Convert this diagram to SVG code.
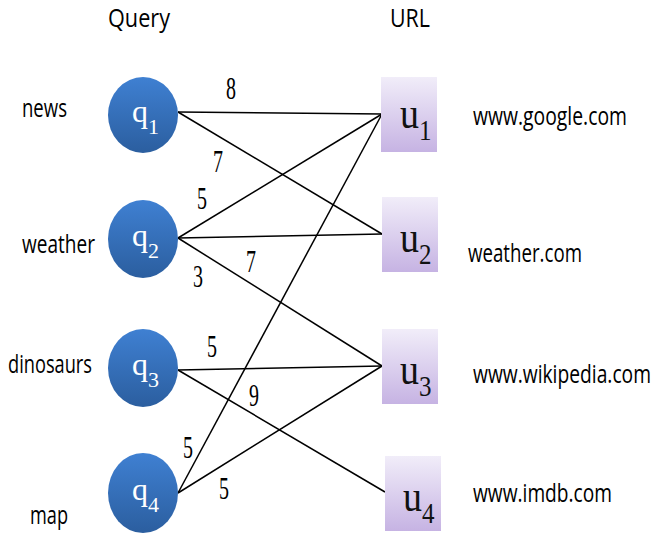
<svg xmlns="http://www.w3.org/2000/svg" width="654" height="537" viewBox="0 0 654 537">
<defs>
<linearGradient id="gq" x1="0" y1="0" x2="0" y2="1">
<stop offset="0" stop-color="#3f80d2"/>
<stop offset="1" stop-color="#2b5e9f"/>
</linearGradient>
<linearGradient id="gu" x1="0" y1="0" x2="0" y2="1">
<stop offset="0" stop-color="#f1edf9"/>
<stop offset="1" stop-color="#c6b3e3"/>
</linearGradient>
</defs>
<style>
.lbl{font-family:"Open Sans","Liberation Sans",sans-serif;font-size:19px;fill:#000}
.q{fill:url(#gq)}
.u{fill:url(#gu)}
.qt{font-family:"Liberation Serif","Times New Roman",serif;font-size:32px;fill:#fff}
.ut{font-family:"Liberation Serif","Times New Roman",serif;font-size:38px;fill:#111}
.w{font-family:"Liberation Serif","Times New Roman",serif;font-size:20px;fill:#000}
.e{stroke:#000;stroke-width:1.5;fill:none}
</style>
<rect width="654" height="537" fill="#fff"/>
<text class="lbl" transform="translate(108,27) scale(1,1.35)" textLength="62" lengthAdjust="spacingAndGlyphs">Query</text>
<text class="lbl" transform="translate(390,27) scale(1,1.35)" textLength="40" lengthAdjust="spacingAndGlyphs">URL</text>
<g id="labels-left">
<text class="lbl" transform="translate(22,117) scale(1,1.35)" textLength="45" lengthAdjust="spacingAndGlyphs">news</text>
<text class="lbl" transform="translate(22,253) scale(1,1.35)" textLength="73" lengthAdjust="spacingAndGlyphs">weather</text>
<text class="lbl" transform="translate(8,373) scale(1,1.35)" textLength="84" lengthAdjust="spacingAndGlyphs">dinosaurs</text>
<text class="lbl" transform="translate(30,524) scale(1,1.35)" textLength="38" lengthAdjust="spacingAndGlyphs">map</text>
</g>
<g id="labels-right">
<text class="lbl" transform="translate(473,125) scale(1,1.35)" textLength="154" lengthAdjust="spacingAndGlyphs">www.google.com</text>
<text class="lbl" transform="translate(468,262) scale(1,1.35)" textLength="114" lengthAdjust="spacingAndGlyphs">weather.com</text>
<text class="lbl" transform="translate(473,383) scale(1,1.35)" textLength="178" lengthAdjust="spacingAndGlyphs">www.wikipedia.com</text>
<text class="lbl" transform="translate(473,502) scale(1,1.35)" textLength="139" lengthAdjust="spacingAndGlyphs">www.imdb.com</text>
</g>
<g id="connectors">
<line class="e" x1="178" y1="112" x2="382" y2="114"/>
<line class="e" x1="178" y1="112" x2="382" y2="234"/>
<line class="e" x1="178" y1="238" x2="382" y2="114"/>
<line class="e" x1="178" y1="238" x2="382" y2="234"/>
<line class="e" x1="178" y1="238" x2="382" y2="366"/>
<line class="e" x1="178" y1="370" x2="382" y2="366"/>
<line class="e" x1="178" y1="370" x2="385" y2="492"/>
<line class="e" x1="178" y1="493" x2="382" y2="366"/>
<line class="e" x1="178" y1="493" x2="382" y2="114"/>
<g id="weights">
<text class="w" transform="translate(231,99) scale(1,1.55)" text-anchor="middle">8</text>
<text class="w" transform="translate(218,172) scale(1,1.55)" text-anchor="middle">7</text>
<text class="w" transform="translate(202,209) scale(1,1.55)" text-anchor="middle">5</text>
<text class="w" transform="translate(251,272) scale(1,1.55)" text-anchor="middle">7</text>
<text class="w" transform="translate(198,287) scale(1,1.55)" text-anchor="middle">3</text>
<text class="w" transform="translate(212,357) scale(1,1.55)" text-anchor="middle">5</text>
<text class="w" transform="translate(254,406) scale(1,1.55)" text-anchor="middle">9</text>
<text class="w" transform="translate(188,458) scale(1,1.55)" text-anchor="middle">5</text>
<text class="w" transform="translate(224,499) scale(1,1.55)" text-anchor="middle">5</text>
</g>
</g>
<g id="q1"><ellipse class="q" cx="143" cy="115" rx="35" ry="38"/><text class="qt" x="132" y="122">q<tspan font-size="22" dy="12">1</tspan></text></g>
<g id="q2"><ellipse class="q" cx="143" cy="239" rx="35" ry="39"/><text class="qt" x="132" y="246">q<tspan font-size="22" dy="12">2</tspan></text></g>
<g id="q3"><ellipse class="q" cx="143" cy="368" rx="35" ry="39"/><text class="qt" x="132" y="375">q<tspan font-size="22" dy="12">3</tspan></text></g>
<g id="q4"><ellipse class="q" cx="143" cy="493" rx="35" ry="40"/><text class="qt" x="132" y="500">q<tspan font-size="22" dy="12">4</tspan></text></g>
<g id="u1"><rect class="u" x="381" y="77" width="56" height="75"/><text class="ut" transform="translate(400,128) scale(1,1.15)">u<tspan font-size="25" dy="10">1</tspan></text></g>
<g id="u2"><rect class="u" x="382" y="197" width="56" height="75"/><text class="ut" transform="translate(400,252) scale(1,1.15)">u<tspan font-size="25" dy="10">2</tspan></text></g>
<g id="u3"><rect class="u" x="382" y="329" width="56" height="75"/><text class="ut" transform="translate(400,384) scale(1,1.15)">u<tspan font-size="25" dy="10">3</tspan></text></g>
<g id="u4"><rect class="u" x="385" y="456" width="56" height="75"/><text class="ut" transform="translate(403,511) scale(1,1.15)">u<tspan font-size="25" dy="10">4</tspan></text></g>
</svg>
